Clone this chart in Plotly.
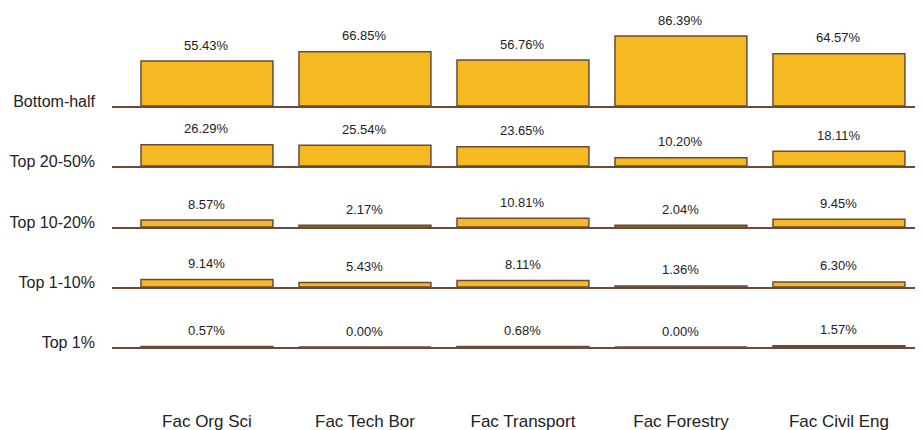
import plotly.graph_objects as go

categories = ["Fac Org Sci", "Fac Tech Bor", "Fac Transport", "Fac Forestry", "Fac Civil Eng"]
groups = ["Bottom-half", "Top 20-50%", "Top 10-20%", "Top 1-10%", "Top 1%"]
bottom_half = [55.43, 66.85, 56.76, 86.39, 64.57]
top_20_50 = [26.29, 25.54, 23.65, 10.20, 18.11]
top_10_20 = [8.57, 2.17, 10.81, 2.04, 9.45]
top_1_10 = [9.14, 5.43, 8.11, 1.36, 6.30]
top_1 = [0.57, 0.00, 0.68, 0.00, 1.57]
series = [bottom_half, top_20_50, top_10_20, top_1_10, top_1]

# page has an 8px body margin, so the figure is sized/offset to compensate
W, H = 915, 422
baselines_px = [98, 158, 219, 279, 339]   # baseline pixel row of each panel (figure coords)
px_per_pct = 0.81
dom_px = 90

BAR = "#F5BA22"
EDGE = "#6B4A3A"
TXT = "#222222"
FONT = "Liberation Sans, Arial, sans-serif"

fig = go.Figure()
layout = {}
annotations = []
for i, (g, vals) in enumerate(zip(groups, series)):
    n = "" if i == 0 else str(i + 1)
    xa, ya = "x" + n, "y" + n
    fig.add_trace(go.Bar(
        x=categories, y=vals, xaxis=xa, yaxis=ya,
        width=0.835,
        marker=dict(color=BAR, line=dict(color=EDGE, width=1.5)),
        showlegend=False, hoverinfo="skip",
    ))
    for c, v in zip(categories, vals):
        annotations.append(dict(
            x=c, y=v, xref=xa, yref=ya, text=f"{v:.2f}%", showarrow=False,
            yanchor="middle", yshift=16,
            font=dict(size=13, color=TXT, family=FONT),
        ))
    b = (H - baselines_px[i]) / H
    top = b + dom_px / H
    layout["yaxis" + n] = dict(
        domain=[b, top], range=[0, dom_px / px_per_pct], anchor=xa,
        showgrid=False, zeroline=False, showline=False, ticks="",
        tickvals=[0], ticktext=[g], ticklabelshift=-5, ticklabelstandoff=16,
        tickfont=dict(size=16, color=TXT, family=FONT), automargin=False,
    )
    xdict = dict(
        anchor=ya, range=[-0.601, 4.532], showgrid=False, zeroline=False,
        showline=True, linecolor=EDGE, linewidth=1.5, ticks="",
        showticklabels=(i == 4), automargin=False,
        tickfont=dict(size=17, color=TXT, family=FONT),
    )
    if i == 4:
        xdict["ticklabelstandoff"] = 58
    if i > 0:
        xdict["matches"] = "x"
    layout["xaxis" + n] = xdict

fig.update_layout(
    width=W, height=H,
    margin=dict(l=104, r=0, t=0, b=0),
    paper_bgcolor="white", plot_bgcolor="rgba(0,0,0,0)",
    annotations=annotations,
    font=dict(family=FONT, color=TXT),
    **layout,
)
fig.write_html("out.html")
